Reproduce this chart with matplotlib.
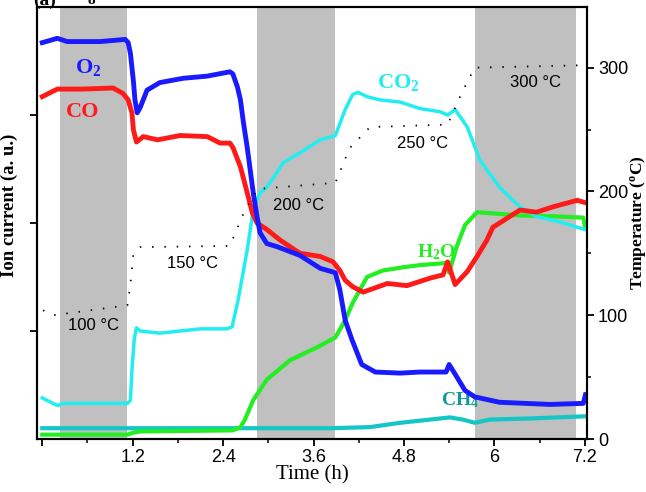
import matplotlib
matplotlib.use("Agg")
from matplotlib import pyplot as plt
from matplotlib.ticker import MultipleLocator

# time in hours, ion current in a.u., temperature in deg C
o2_t = [0.0, 0.2, 0.33, 0.77, 1.10, 1.14, 1.17, 1.21, 1.23, 1.26, 1.30, 1.39, 1.56, 1.87, 2.19,
        2.49, 2.53, 2.59, 2.63, 2.67, 2.72, 2.76, 2.80, 2.85, 2.89, 2.98, 3.12, 3.42, 3.69, 3.89,
        3.95, 4.02, 4.11, 4.24, 4.42, 4.75, 5.01, 5.36, 5.40, 5.48, 5.61, 5.74, 6.07, 6.74, 7.18, 7.21]
o2_v = [3.67, 3.71, 3.68, 3.68, 3.70, 3.67, 3.57, 3.31, 3.14, 3.02, 3.07, 3.23, 3.30, 3.34, 3.36,
        3.40, 3.38, 3.26, 3.14, 2.93, 2.70, 2.49, 2.28, 2.06, 1.91, 1.81, 1.78, 1.70, 1.58, 1.54,
        1.38, 1.10, 0.92, 0.69, 0.62, 0.61, 0.62, 0.62, 0.69, 0.60, 0.45, 0.39, 0.34, 0.32, 0.33, 0.41]

co_t = [0.0, 0.2, 0.54, 0.94, 1.07, 1.14, 1.19, 1.21, 1.25, 1.34, 1.53, 1.83, 2.19, 2.36, 2.49,
        2.53, 2.63, 2.72, 2.79, 2.85, 2.98, 3.16, 3.42, 3.69, 3.86, 3.95, 4.02, 4.12, 4.26, 4.58,
        4.84, 5.15, 5.32, 5.38, 5.48, 5.64, 5.77, 5.90, 5.98, 6.34, 6.56, 6.78, 7.10, 7.20]
co_v = [3.17, 3.24, 3.24, 3.25, 3.20, 3.14, 3.02, 2.86, 2.75, 2.80, 2.77, 2.81, 2.80, 2.74, 2.74,
        2.70, 2.52, 2.28, 2.09, 2.00, 1.94, 1.84, 1.72, 1.69, 1.64, 1.56, 1.47, 1.41, 1.36, 1.44,
        1.42, 1.49, 1.52, 1.64, 1.43, 1.55, 1.69, 1.84, 1.96, 2.12, 2.10, 2.15, 2.21, 2.19]

co2_t = [0.0, 0.17, 0.21, 0.27, 1.13, 1.17, 1.19, 1.22, 1.25, 1.30, 1.56, 2.10, 2.45, 2.52, 2.60,
         2.72, 2.80, 2.89, 2.98, 3.20, 3.42, 3.69, 3.89, 4.02, 4.12, 4.19, 4.31, 4.48, 4.75, 5.01,
         5.28, 5.38, 5.48, 5.64, 5.81, 6.07, 6.34, 6.56, 6.87, 7.20]
co2_v = [0.38, 0.32, 0.31, 0.33, 0.33, 0.36, 0.64, 0.92, 1.03, 1.00, 0.98, 1.02, 1.02, 1.04, 1.29,
         1.75, 2.12, 2.28, 2.33, 2.56, 2.65, 2.77, 2.81, 3.05, 3.19, 3.21, 3.17, 3.14, 3.12, 3.06,
         3.03, 3.00, 3.05, 2.89, 2.58, 2.33, 2.15, 2.06, 2.01, 1.94]

h2o_t = [0.0, 1.13, 1.21, 1.30, 2.53, 2.63, 2.69, 2.80, 2.98, 3.29, 3.65, 3.89, 4.02, 4.12, 4.31,
         4.52, 4.79, 5.01, 5.37, 5.40, 5.50, 5.61, 5.77, 6.34, 6.87, 7.18, 7.21]
h2o_v = [0.04, 0.04, 0.06, 0.07, 0.08, 0.11, 0.18, 0.36, 0.55, 0.73, 0.85, 0.94, 1.10, 1.26, 1.50,
         1.56, 1.59, 1.61, 1.63, 1.54, 1.78, 1.98, 2.10, 2.07, 2.06, 2.05, 1.95]

ch4_t = [0.0, 3.82, 4.35, 4.75, 5.28, 5.41, 5.58, 5.74, 5.94, 6.47, 7.20]
ch4_v = [0.10, 0.10, 0.11, 0.15, 0.19, 0.20, 0.18, 0.15, 0.18, 0.19, 0.21]

temp_t = [0.01, 0.15, 1.13, 1.17, 1.21, 1.30, 2.49, 2.69, 2.86, 3.89, 4.08, 4.35, 5.38, 5.57, 5.74, 7.23]
temp_v = [104, 100, 108, 125, 150, 155, 156, 185, 202, 207, 235, 252, 254, 280, 300, 302]

# shaded periods (h)
bands = [(0.24, 1.13), (2.85, 3.89), (5.74, 7.08)]

# temperature annotations: (time, temp, text)
temp_labels = [(0.68, 92, "100 °C"), (2.0, 142, "150 °C"), (3.40, 189, "200 °C"),
               (5.05, 239, "250 °C"), (6.54, 288, "300 °C")]

serif = ["Liberation Serif", "DejaVu Serif"]
sans = ["Liberation Sans", "DejaVu Sans"]

plt.rcParams["mathtext.fontset"] = "custom"
plt.rcParams["mathtext.rm"] = "Liberation Serif:bold"
plt.rcParams["mathtext.it"] = "Liberation Serif:bold"

fig = plt.figure(figsize=(6.46, 4.92), dpi=100)
ax = fig.add_axes([37 / 646, 53 / 492, 550 / 646, 432 / 492])
ax2 = ax.twinx()

for a, b in bands:
    ax.axvspan(a, b, color="#c0c0c0", lw=0, zorder=0)

ax.plot(ch4_t, ch4_v, color="#14c6c6", lw=3, zorder=2)
ax.plot(h2o_t, h2o_v, color="#22ee22", lw=3, zorder=3)
ax.plot(co2_t, co2_v, color="#22eef2", lw=2.5, zorder=3)
ax.plot(co_t, co_v, color="#ff1a1a", lw=3.5, zorder=4)
ax.plot(o2_t, o2_v, color="#1a1aff", lw=3.5, zorder=5)

ax2.plot(temp_t, temp_v, color="black", lw=1.3, linestyle=(0, (0.8, 6)))
for t, v, s in temp_labels:
    ax2.text(t, v, s, ha="center", va="center", fontsize=12, family=sans)

# species labels
ax.text(0.61, 3.44, "O$_2$", color="#1a1aff", fontsize=16, fontweight="bold", family=serif,
        ha="center", va="center")
ax.text(0.53, 3.03, "CO", color="#ff1a1a", fontsize=16, fontweight="bold", family=serif,
        ha="center", va="center")
ax.text(4.72, 3.30, "CO$_2$", color="#22eef2", fontsize=16, fontweight="bold", family=serif,
        ha="center", va="center")
ax.text(5.23, 1.73, "H$_2$O", color="#22ee22", fontsize=14, fontweight="bold", family=serif,
        ha="center", va="center")
ax.text(5.55, 0.36, "CH$_4$", color="#0e9898", fontsize=14, fontweight="bold", family=serif,
        ha="center", va="center")

ax.set_xlim(-0.07, 7.23)
ax.set_ylim(0, 4.0)
ax2.set_ylim(0, 349)

ax.xaxis.set_minor_locator(MultipleLocator(0.6))
ax.set_xticks([0, 1.2, 2.4, 3.6, 4.8, 6.0, 7.2])
ax.set_xticklabels(["", "1.2", "2.4", "3.6", "4.8", "6", "7.2"], family=sans, fontsize=13)
ax.set_yticks([1, 2, 3])
ax.set_yticklabels([])
ax2.yaxis.set_minor_locator(MultipleLocator(50))
ax2.set_yticks([0, 100, 200, 300])
ax2.set_yticklabels(["0", "100", "200", "300"], family=sans, fontsize=13)

for a in (ax, ax2):
    for sp in a.spines.values():
        sp.set_linewidth(1.5)
ax.tick_params(which="major", direction="out", length=5, width=1.3, pad=2)
ax.tick_params(which="minor", direction="out", length=3, width=1.1)
ax2.tick_params(which="major", direction="out", length=5, width=1.3, pad=3)
ax2.tick_params(which="minor", direction="out", length=3, width=1.1)

ax.set_xlabel("Time (h)", family=serif, fontsize=15, labelpad=0)
ax.set_ylabel("Ion current (a. u.)", family=serif, fontsize=13.5, fontweight="bold")
ax.yaxis.set_label_coords(-0.035, 0.54)
ax2.set_ylabel("Temperature ($^{\\mathregular{o}}$C)", family=serif, fontsize=12.5, fontweight="bold")
ax2.yaxis.set_label_coords(1.075, 0.5)

# panel header, cut by the top edge as in the original figure
fig.text(33 / 646, 1.0, "(a)", family=serif, fontsize=14, fontweight="bold", va="center")
fig.text(88 / 646, 1.0, "8", family=serif, fontsize=11, fontweight="bold", va="center")

fig.savefig("out.png", dpi=100)
